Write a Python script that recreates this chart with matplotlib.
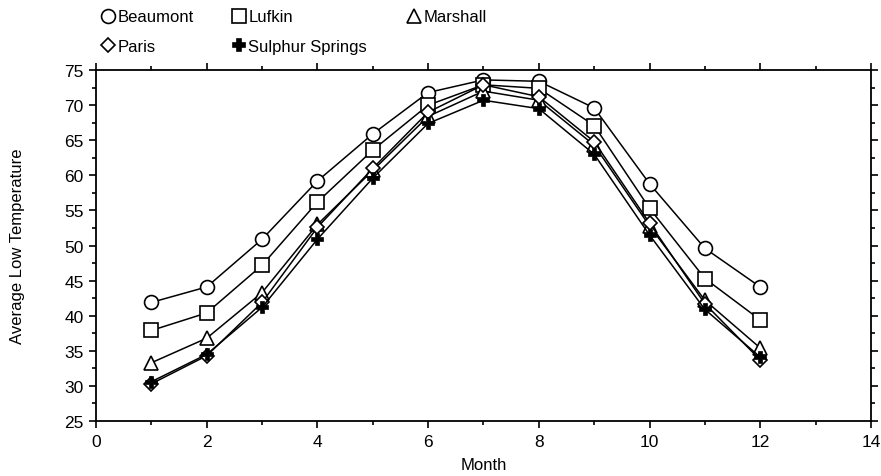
import matplotlib.pyplot as plt
from matplotlib.lines import Line2D
import numpy as np

plt.rcParams['font.family'] = ['Liberation Sans', 'DejaVu Sans']

# average low temperature by month
months = np.arange(1, 13)
beaumont = [41.9, 44.1, 50.9, 59.2, 65.9, 71.8, 73.6, 73.4, 69.6, 58.8, 49.6, 44.1]
lufkin = [37.9, 40.4, 47.2, 56.2, 63.6, 70.0, 72.9, 72.4, 67.1, 55.3, 45.3, 39.4]
marshall = [33.3, 36.8, 43.3, 53.0, 60.7, 68.4, 72.0, 70.7, 64.3, 52.8, 42.2, 35.4]
paris = [30.3, 34.3, 41.9, 52.6, 61.0, 69.0, 72.9, 71.2, 64.8, 53.2, 41.7, 33.7]
sulphur_springs = [30.6, 34.5, 41.2, 50.9, 59.6, 67.4, 70.7, 69.5, 63.0, 51.5, 40.9, 34.1]

fig = plt.figure(figsize=(8.81, 4.77), dpi=100)
ax = fig.add_axes([0.109, 0.1153, 0.8796, 0.7357])

style = dict(color='black', lw=1.1, markerfacecolor='white',
             markeredgecolor='black', markeredgewidth=1.2)
ax.plot(months, beaumont, marker='o', ms=10, **style)
ax.plot(months, lufkin, marker='s', ms=10, **style)
ax.plot(months, marshall, marker='^', ms=9.5, **style)
ax.plot(months, paris, marker='D', ms=7, **style)
ax.plot(months, sulphur_springs, marker='P', ms=8, color='black', lw=1.1,
        markerfacecolor='black', markeredgecolor='black', markeredgewidth=0.5)

ax.set_xlim(0, 14)
ax.set_ylim(25, 75)
ax.set_xticks(np.arange(0, 15, 2))
ax.set_xticks(np.arange(0, 15, 1), minor=True)
ax.set_yticks(np.arange(25, 76, 5))
ax.set_yticks(np.arange(25, 76, 2.5), minor=True)
ax.tick_params(which='both', direction='out', top=True, right=True,
               width=1.2, labelsize=12.5, colors='black')
ax.tick_params(which='major', length=5, pad=4)
ax.tick_params(which='minor', length=3)
for s in ax.spines.values():
    s.set_linewidth(1.3)

ax.set_xlabel('Month', fontsize=12, labelpad=6)
ax.set_ylabel('Average Low Temperature', fontsize=12, labelpad=28)

# legend markers only, no line
def proxy(marker, ms, label, fill='white'):
    return Line2D([], [], ls='none', marker=marker, ms=ms, markerfacecolor=fill,
                  markeredgecolor='black', markeredgewidth=1.2, label=label)

h1 = proxy('o', 10, 'Beaumont')
h2 = proxy('s', 10, 'Lufkin')
h3 = proxy('^', 9.5, 'Marshall')
h4 = proxy('D', 7, 'Paris')
h5 = proxy('P', 8, 'Sulphur Springs', fill='black')

# legend in three columns with uneven spacing
cols = [([h1, h4], 0.1135), ([h2, h5], 0.262), ([h3], 0.461)]
for handles, xpos in cols:
    fig.legend(handles=handles, loc='upper left', bbox_to_anchor=(xpos, 0.978),
               frameon=False, fontsize=12, borderpad=0, handlelength=1.0,
               handletextpad=0.05, labelspacing=0.85, borderaxespad=0)

fig.savefig('out.png', dpi=100)
